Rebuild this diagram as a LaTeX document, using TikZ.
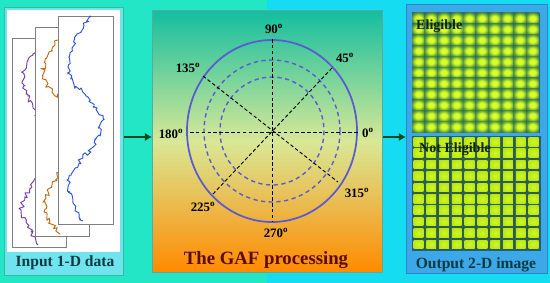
\documentclass[tikz,border=0pt]{standalone}
\usepackage{fontspec}
\setmainfont{Liberation Serif}
\usepackage{xcolor}
\usepackage{tikz}
\usetikzlibrary{arrows.meta, decorations.pathmorphing}
\definecolor{bgleft}{HTML}{22E6C6}
\definecolor{bgright}{HTML}{16DCF2}
\definecolor{inframe}{HTML}{2FBF9A}
\definecolor{inlabel}{HTML}{70E4EE}
\definecolor{sigframe}{HTML}{7F7F7F}
\definecolor{sigpurple}{HTML}{7440B4}
\definecolor{sigorange}{HTML}{C46A14}
\definecolor{sigblue}{HTML}{2E56D6}
\definecolor{gaftop}{HTML}{12BEA0}
\definecolor{gafmid}{HTML}{D8E896}
\definecolor{gafbot}{HTML}{FF8A00}
\definecolor{gafframe}{HTML}{5AA8A0}
\definecolor{ring}{HTML}{5A5AD2}
\definecolor{gafink}{HTML}{5C0A0A}
\definecolor{labink}{HTML}{0C3A42}
\definecolor{tagink}{HTML}{142414}
\definecolor{outfill}{HTML}{3CA8E8}
\definecolor{outframe}{HTML}{2A86CC}
\definecolor{gridhi}{HTML}{DAFF26}
\definecolor{gridmid}{HTML}{4E9240}
\definecolor{griddark}{HTML}{1D4E58}
\definecolor{sqfill}{HTML}{B8E80A}
\definecolor{sqhi}{HTML}{CFF630}
\definecolor{sqgrid}{HTML}{2C5C52}
\definecolor{arrowgreen}{HTML}{0B4A1E}
\pgfdeclareradialshading{blob}{\pgfpoint{0bp}{0bp}}{color(0bp)=(gridhi); color(11bp)=(gridhi); color(27bp)=(gridmid); color(44bp)=(griddark); color(72bp)=(griddark)}
\pgfdeclareradialshading{tile}{\pgfpoint{0bp}{0bp}}{color(0bp)=(sqhi); color(30bp)=(sqfill); color(50bp)=(sqfill!90!black); color(72bp)=(sqfill!90!black)}
\newlength\px
\setlength\px{0.03cm}
\tikzset{
  panel/.style     ={anchor=north west, inner sep=0pt, line width=0.6pt},
  inbox/.style     ={panel, fill=inlabel, draw=inframe},
  sigbox/.style    ={panel, fill=white, draw=sigframe, line width=0.8pt},
  gafbox/.style    ={panel, draw=gafframe, top color=gaftop, bottom color=gafbot, middle color=gafmid},
  outbox/.style    ={panel, fill=outfill, draw=outframe},
  gridbox/.style   ={panel, draw=outframe!70!black},
  trace/.style     ={line width=0.8pt, line join=round, decorate,
                     decoration={random steps, segment length=2pt, amplitude=2.2pt}},
  ringsolid/.style ={draw=ring, line width=1.5pt},
  ringdash/.style  ={draw=ring, line width=1.2pt, dash pattern=on 3.6pt off 3pt},
  axisline/.style  ={draw=black, line width=0.8pt, dash pattern=on 3pt off 2pt},
  anglab/.style    ={font=\fontsize{11}{12}\selectfont\bfseries, inner sep=0pt},
  paneltitle/.style={font=\fontsize{13.3}{15}\selectfont\bfseries, text=labink, inner sep=0pt},
  gridtag/.style   ={font=\fontsize{12}{14}\selectfont\bfseries, text=tagink, inner sep=0pt, anchor=west},
  flow/.style      ={-{Latex[length=6pt,width=7pt]}, line width=1.7pt, draw=arrowgreen}
}
\begin{document}
\begin{tikzpicture}[x=0.03cm, y=-0.03cm]
  \useasboundingbox (0,0) rectangle (550,283);
  \fill[bgleft] (0,0) rectangle (267,283);
  \fill[bgright] (267,0) rectangle (550,283);
  \coordinate (mid) at (0,137);
  \pgfmathsetseed{11}

  % input 1-D series
  \node[inbox, minimum width=119*\px, minimum height=268*\px] (input) at (4,7) {};
  \node[panel, fill=white, minimum width=113*\px, minimum height=242*\px] (inarea) at (7,10) {};
  \node[sigbox, minimum width=54*\px, minimum height=209*\px] (sig1) at (12,38) {};
  \draw[trace, sigpurple] (37,50) -- (33,55) -- (27,62) -- (22,72) -- (24,85)
    -- (28,96) -- (33,108) -- (45,130) -- (48,150) -- (42,170) -- (32,187) -- (25,197)
    -- (21,210) -- (26,222) -- (31,232) -- (38,245);
  \node[sigbox, minimum width=54*\px, minimum height=209*\px] (sig2) at (35,27) {};
  \draw[trace, sigorange] (58,40) -- (55,45) -- (49,52) -- (44,62) -- (43,75)
    -- (47,85) -- (52,92) -- (58,98) -- (66,120) -- (70,150) -- (64,170) -- (57,175)
    -- (52,185) -- (46,198) -- (44,212) -- (50,222) -- (56,228) -- (60,234);
  \node[sigbox, minimum width=55*\px, minimum height=208*\px] (sig3) at (58,16) {};
  \draw[trace, sigblue] (91,17) -- (84,25) -- (77,34) -- (72,48) -- (68,67)
    -- (74,85) -- (88,97) -- (97,108) -- (103,120) -- (99,135) -- (92,148) -- (83,158)
    -- (75,168) -- (67,180) -- (70,192) -- (73,203) -- (79,213) -- (83,221);
  \node[paneltitle] (inlab) at (65,263) {Input 1-D data};

  % GAF polar panel
  \node[gafbox, minimum width=230*\px, minimum height=262*\px] (gaf) at (152,10) {};
  \coordinate (o) at (272,131);
  \draw[ringsolid] (o) ellipse [x radius=85, y radius=91];
  \draw[ringdash] (o) ellipse [x radius=68, y radius=71];
  \draw[ringdash] (o) ellipse [x radius=52, y radius=54];
  \coordinate (a0) at (358,132);
  \coordinate (a180) at (190,132);
  \coordinate (a90) at (272,39);
  \coordinate (a270) at (272,222);
  \coordinate (a45) at (332,68);
  \coordinate (a225) at (213,194);
  \coordinate (a135) at (203,76);
  \coordinate (a315) at (338,182);
  \draw[axisline] (a180) -- (a0);
  \draw[axisline] (a90) -- (a270);
  \draw[axisline] (a135) -- (a315);
  \draw[axisline] (a45) -- (a225);
  \node[anglab] (l90) at (274,29) {90\textsuperscript{o}};
  \node[anglab] (l45) at (345,58) {45\textsuperscript{o}};
  \node[anglab] (l135) at (188,68) {135\textsuperscript{o}};
  \node[anglab] (l180) at (171,134) {180\textsuperscript{o}};
  \node[anglab] (l0) at (368,133) {0\textsuperscript{o}};
  \node[anglab] (l315) at (357,193) {315\textsuperscript{o}};
  \node[anglab] (l225) at (203,207) {225\textsuperscript{o}};
  \node[anglab] (l270) at (276,233) {270\textsuperscript{o}};
  \node[paneltitle, text=gafink, font=\fontsize{16}{18}\selectfont\bfseries] (gaflab) at (266,260) {The GAF processing};

  % output 2-D images
  \node[outbox, minimum width=141*\px, minimum height=269*\px] (output) at (406,4) {};
  \node[gridbox, fill=griddark, minimum width=127*\px, minimum height=119*\px] (eli) at (412,13) {};
  \foreach \i in {0,...,9}
    \foreach \j in {0,...,10}
      \shade[shading=blob] ({412+12.7*\i},{13+10.82*\j}) rectangle ++(12.7,10.82);
  \node[gridbox, fill=sqgrid, minimum width=128*\px, minimum height=114*\px] (noteli) at (412,136) {};
  \foreach \i in {0,...,9}
    \foreach \j in {0,...,9}
      \shade[shading=tile] ({412+12.8*\i+1.5},{136+11.4*\j+1.5}) rectangle ++(9.8,8.6);
  \node[gridtag] (elilab) at (416,26) {Eligible};
  \node[gridtag] (notelilab) at (419,149) {Not Eligible};
  \node[paneltitle] (outlab) at (476,265) {Output 2-D image};

  \draw[flow] (input.east |- mid) -- (gaf.west |- mid);
  \draw[flow] (gaf.east |- mid) -- (output.west |- mid);
\end{tikzpicture}
\end{document}
